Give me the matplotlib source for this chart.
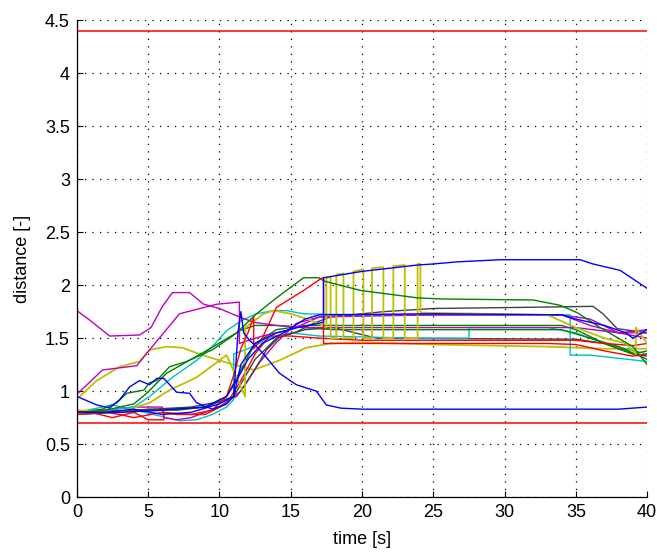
import matplotlib.pyplot as plt
import numpy as np

# MATLAB-style colour order
B, G, R, C, M, Y, K = '#0000ff', '#008000', '#ff0000', '#00bfbf', '#bf00bf', '#bfbf00', '#404040'

upper_limit = 4.4
lower_limit = 0.7

# each trace: (colour, times, distances)
blue1_t = [0, 1.4, 2.3, 3, 3.7, 4.4, 5.1, 5.6, 6.1, 7, 7.9, 8.4, 9.5, 10.5, 11, 11.5, 12.5, 14, 15.5, 17.3, 17.3, 20, 23.9, 25, 26.7, 29.7, 35.3, 36.2, 38.1, 40]
blue1_d = [0.95, 0.87, 0.84, 0.92, 1.04, 1.1, 1.06, 1.12, 1.12, 0.99, 0.98, 0.89, 0.83, 0.88, 0.95, 1.25, 1.45, 1.55, 1.6, 1.65, 2.07, 2.13, 2.19, 2.2, 2.22, 2.24, 2.24, 2.2, 2.14, 1.97]

blue2_t = [0, 2, 4, 6, 8, 10, 11, 11.3, 11.5, 11.7, 12.1, 12.6, 13.1, 14.2, 15.4, 16.8, 17.5, 18.5, 20, 38, 40]
blue2_d = [0.8, 0.8, 0.83, 0.78, 0.8, 0.88, 0.95, 1.55, 1.75, 1.55, 1.48, 1.42, 1.35, 1.17, 1.06, 1.0, 0.87, 0.84, 0.83, 0.83, 0.85]

blue3_t = [0, 3, 6, 9, 10.5, 11.2, 12, 13, 14.5, 16, 17, 25, 34, 35, 37, 38.5, 39, 40]
blue3_d = [0.8, 0.8, 0.82, 0.85, 0.95, 1.1, 1.3, 1.45, 1.55, 1.68, 1.72, 1.73, 1.72, 1.68, 1.62, 1.55, 1.5, 1.58]

green1_t = [0, 2, 4, 4.9, 6.3, 8.8, 11.2, 12.6, 14, 15.9, 17, 17.3, 19.9, 23.9, 25.5, 32, 33.9, 35.1, 36.7, 39, 40]
green1_d = [0.8, 0.82, 0.88, 0.98, 1.17, 1.36, 1.55, 1.73, 1.88, 2.07, 2.07, 2.04, 1.95, 1.88, 1.87, 1.86, 1.81, 1.74, 1.6, 1.42, 1.25]

green2_t = [0, 1.8, 2.8, 3.5, 4.7, 5.1, 5.6, 6.5, 7.7, 9.5, 10.7, 11.4, 12.5, 14, 16, 18, 30, 34, 36, 38, 40]
green2_d = [0.8, 0.83, 0.89, 0.98, 1.01, 1.08, 1.1, 1.23, 1.28, 1.39, 1.5, 1.57, 1.62, 1.62, 1.6, 1.58, 1.58, 1.58, 1.5, 1.42, 1.3]

green3_t = [0, 3, 5, 7, 9, 10.5, 11.5, 12.5, 14, 16, 18, 22, 34, 35, 37, 39, 40]
green3_d = [0.78, 0.8, 0.83, 0.82, 0.85, 0.95, 1.2, 1.45, 1.58, 1.62, 1.62, 1.62, 1.62, 1.58, 1.45, 1.35, 1.38]

red1_t = [0, 2, 3, 4, 6, 8, 9.5, 10.5, 11, 11.5, 12, 12.4, 12.4, 13, 14, 15.9, 17.1, 17.3, 17.3, 20, 33, 35, 37, 39, 40]
red1_d = [0.78, 0.8, 0.78, 0.75, 0.8, 0.78, 0.82, 0.95, 1.15, 1.4, 1.55, 1.7, 1.4, 1.5, 1.79, 1.95, 2.06, 2.07, 1.45, 1.45, 1.45, 1.44, 1.38, 1.33, 1.35]

red2_t = [0, 1, 2.5, 4, 5, 6.1, 6.1, 7, 9, 10.5, 11.5, 12.5, 13.5, 15, 17, 20, 35, 37, 39, 40]
red2_d = [0.8, 0.8, 0.75, 0.8, 0.73, 0.73, 0.8, 0.78, 0.78, 0.88, 1.1, 1.35, 1.52, 1.52, 1.5, 1.48, 1.48, 1.45, 1.43, 1.45]

cyan1_t = [0, 2, 4, 5.1, 6.7, 8.4, 9.5, 10.5, 11.6, 12.6, 13.8, 14.7, 15.9, 20, 30, 34.6, 34.6, 36, 38, 40]
cyan1_d = [0.8, 0.82, 0.85, 0.95, 1.13, 1.29, 1.42, 1.57, 1.67, 1.73, 1.76, 1.76, 1.73, 1.72, 1.72, 1.72, 1.34, 1.34, 1.31, 1.28]

cyan2_t = [0, 1.8, 2.5, 6, 7.2, 8.4, 9.5, 10.5, 11, 11, 12, 13.5, 15, 17, 24, 27.5, 27.5, 33, 35, 37, 40]
cyan2_d = [0.8, 0.85, 0.87, 0.76, 0.72, 0.73, 0.78, 0.85, 0.92, 1.35, 1.4, 1.5, 1.55, 1.52, 1.5, 1.5, 1.6, 1.6, 1.55, 1.45, 1.35]

yellow1_t = [0.2, 1.4, 3, 4.4, 5.1, 6.3, 7.4, 8.8, 10.5, 11.9, 12.4, 14.2, 16.1, 17.8, 20, 25, 33, 35, 37, 40]
yellow1_d = [0.95, 1.1, 1.23, 1.28, 1.39, 1.42, 1.41, 1.34, 1.27, 1.22, 1.2, 1.29, 1.41, 1.45, 1.46, 1.44, 1.42, 1.41, 1.4, 1.4]

yellow2_t = [0, 3, 5.1, 6.5, 8.4, 9.8, 10.5, 11.8, 11.8, 13.1, 13.8, 15, 16.4, 17.5,
             17.5, 17.8, 17.8, 18.2, 18.2, 18.7, 18.7, 19.4, 19.4, 20.1, 20.1, 20.7, 20.7,
             21.5, 21.5, 22.2, 22.2, 23.0, 23.0, 23.9, 23.9, 24.1, 24.1, 33, 35, 37, 38.5, 39.2, 39.2, 40]
yellow2_d = [0.82, 0.8, 0.89, 1.01, 1.13, 1.27, 1.34, 0.95, 1.6, 1.73, 1.76, 1.73, 1.67, 1.6,
             2.07, 2.08, 1.5, 1.5, 2.1, 2.11, 1.5, 1.5, 2.13, 2.15, 1.5, 1.5, 2.16,
             2.17, 1.5, 1.5, 2.18, 2.19, 1.5, 1.5, 2.2, 2.2, 1.74, 1.72, 1.6, 1.5, 1.45, 1.35, 1.6, 1.45]

magenta1_t = [0, 1, 2.3, 4.4, 5.2, 6.0, 6.7, 7.9, 8.9, 10, 11.4, 12.4, 14, 16, 17.5, 20, 30, 35, 38, 40]
magenta1_d = [1.76, 1.66, 1.52, 1.53, 1.6, 1.8, 1.93, 1.93, 1.82, 1.78, 1.70, 1.65, 1.62, 1.6, 1.6, 1.6, 1.6, 1.6, 1.55, 1.5]

magenta2_t = [0, 1.8, 4.2, 5.1, 7.2, 9.8, 11.4, 11.4, 13, 15, 17, 25, 34, 36, 38, 40]
magenta2_d = [0.97, 1.2, 1.24, 1.39, 1.73, 1.82, 1.84, 1.45, 1.52, 1.58, 1.7, 1.72, 1.72, 1.62, 1.55, 1.58]

magenta3_t = [0, 2, 4, 6, 6.1, 7, 8, 10, 11.5, 12.8, 14, 15.4, 17, 20, 34, 36, 38, 40]
magenta3_d = [0.8, 0.82, 0.85, 0.85, 0.75, 0.73, 0.75, 0.85, 1.0, 1.27, 1.46, 1.64, 1.7, 1.72, 1.72, 1.68, 1.55, 1.55]

gray1_t = [0, 4, 8, 10, 11.2, 11.9, 12.6, 13.3, 14.2, 15.4, 16.6, 17.8, 21.5, 25, 31, 36.2, 36.9, 37.9, 40]
gray1_d = [0.8, 0.82, 0.85, 0.9, 0.95, 1.08, 1.23, 1.39, 1.51, 1.56, 1.64, 1.7, 1.75, 1.78, 1.79, 1.8, 1.73, 1.59, 1.55]

gray2_t = [0, 5, 9, 11, 12.5, 14, 16, 18, 21, 35, 37, 39, 40]
gray2_d = [0.8, 0.82, 0.85, 0.95, 1.3, 1.5, 1.58, 1.6, 1.5, 1.49, 1.45, 1.35, 1.33]

traces = [
    (Y, yellow1_t, yellow1_d),
    (K, gray2_t, gray2_d),
    (C, cyan2_t, cyan2_d),
    (G, green3_t, green3_d),
    (M, magenta3_t, magenta3_d),
    (K, gray1_t, gray1_d),
    (C, cyan1_t, cyan1_d),
    (G, green2_t, green2_d),
    (R, red2_t, red2_d),
    (M, magenta1_t, magenta1_d),
    (M, magenta2_t, magenta2_d),
    (Y, yellow2_t, yellow2_d),
    (G, green1_t, green1_d),
    (R, red1_t, red1_d),
    (B, blue3_t, blue3_d),
    (B, blue2_t, blue2_d),
    (B, blue1_t, blue1_d),
]

plt.rcParams['font.family'] = ['Liberation Sans', 'DejaVu Sans']

fig = plt.figure(figsize=(6.57, 5.53), dpi=100)
ax = fig.add_axes([0.117, 0.101, 0.868, 0.8625])

for color, t, d in traces:
    lw = 1.3 if color == Y else 1.0
    ax.plot(t, d, color=color, lw=lw)

ax.axhline(upper_limit, color=R, lw=1.1)
ax.axhline(lower_limit, color=R, lw=1.1)

ax.set_xlim(0, 40)
ax.set_ylim(0, 4.5)
ax.set_xticks(np.arange(0, 41, 5))
ax.set_yticks(np.arange(0, 4.51, 0.5))
ax.set_yticklabels(['0', '0.5', '1', '1.5', '2', '2.5', '3', '3.5', '4', '4.5'])
ax.grid(True, linestyle=(0, (1, 5)), color='black', lw=0.9)
ax.tick_params(direction='in', labelsize=13, length=4, pad=5)

# box off: only left and bottom axes
ax.spines['top'].set_visible(False)
ax.spines['right'].set_visible(False)
ax.spines['left'].set_linewidth(0.9)
ax.spines['bottom'].set_linewidth(0.9)

ax.set_xlabel('time [s]', fontsize=13, labelpad=7)
ax.set_ylabel('distance [-]', fontsize=13, labelpad=10)

fig.savefig('out.png', dpi=100)
